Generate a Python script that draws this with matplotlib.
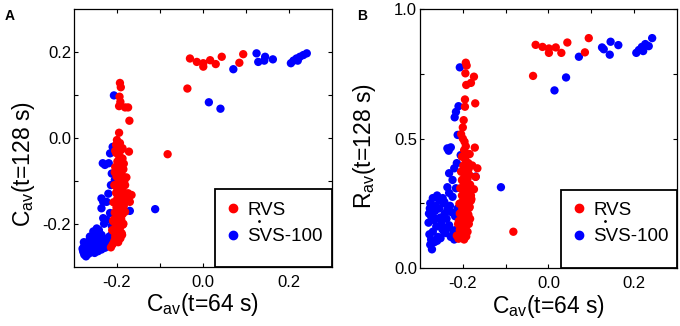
import matplotlib
matplotlib.use("Agg")
import matplotlib.pyplot as plt
from matplotlib.lines import Line2D
from matplotlib.patches import Rectangle

plt.rcParams['font.family'] = ['Liberation Sans', 'DejaVu Sans']
plt.rcParams['mathtext.fontset'] = 'custom'
plt.rcParams['mathtext.rm'] = 'Liberation Sans'
plt.rcParams['mathtext.it'] = 'Liberation Sans'

# RVS points: C_av(t=64 s), C_av(t=128 s), R_av(t=128 s)
rvs_x = [-0.030, -0.014, 0.001, 0.001, 0.017, 0.030, 0.044, 0.085, 0.094, -0.036,
         -0.082,
         -0.193, -0.191, -0.194, -0.192, -0.195, -0.174, -0.181, -0.171, -0.195, -0.172,
         -0.198, -0.200, -0.204, -0.196,
         -0.200, -0.193, -0.197, -0.190, -0.202, -0.194, -0.187, -0.199, -0.191, -0.204,
         -0.185, -0.196, -0.189, -0.201, -0.193, -0.183, -0.198, -0.206, -0.190, -0.195,
         -0.186, -0.202, -0.192, -0.180, -0.199, -0.188, -0.208, -0.194, -0.184, -0.201,
         -0.191, -0.197, -0.205, -0.187, -0.195, -0.200, -0.190, -0.209, -0.196, -0.186,
         -0.203, -0.193, -0.199, -0.207, -0.189, -0.196, -0.204, -0.192, -0.201, -0.197,
         -0.210, -0.214, -0.184, -0.178, -0.174, -0.170, -0.166, -0.181, -0.185, -0.188,
         -0.183, -0.181, -0.205, -0.207, -0.211, -0.206, -0.202, -0.187, -0.194, -0.199]
rvs_c128 = [0.185, 0.177, 0.174, 0.166, 0.181, 0.172, 0.189, 0.175, 0.195, 0.115,
            -0.038,
            0.128, 0.118, 0.096, 0.084, 0.074, 0.071, 0.071, 0.040, 0.012, -0.032,
            -0.017, -0.026, -0.030, -0.040,
            -0.005, -0.012, -0.020, -0.028, -0.035, -0.042, -0.048, -0.055, -0.062, -0.068,
            -0.073, -0.078, -0.085, -0.090, -0.096, -0.101, -0.105, -0.110, -0.114, -0.119,
            -0.124, -0.128, -0.133, -0.137, -0.141, -0.146, -0.150, -0.154, -0.158, -0.162,
            -0.166, -0.170, -0.174, -0.178, -0.182, -0.186, -0.190, -0.194, -0.198, -0.202,
            -0.206, -0.210, -0.214, -0.218, -0.222, -0.226, -0.230, -0.234, -0.238, -0.243,
            -0.248, -0.255, -0.060, -0.092, -0.129, -0.149, -0.133, -0.172, -0.200, -0.226,
            -0.150, -0.110, -0.080, -0.190, -0.215, -0.240, -0.016, -0.024, -0.066, -0.118]
rvs_r128 = [0.862, 0.854, 0.848, 0.831, 0.852, 0.831, 0.871, 0.833, 0.888, 0.742,
            0.140,
            0.793, 0.782, 0.752, 0.707, 0.651, 0.739, 0.715, 0.636, 0.623, 0.465,
            0.571, 0.543, 0.517, 0.488,
            0.500, 0.470, 0.455, 0.440, 0.430, 0.418, 0.405, 0.395, 0.380, 0.372,
            0.360, 0.352, 0.345, 0.338, 0.330, 0.322, 0.315, 0.308, 0.300, 0.292,
            0.286, 0.280, 0.273, 0.266, 0.260, 0.254, 0.248, 0.242, 0.236, 0.230,
            0.224, 0.218, 0.212, 0.206, 0.200, 0.194, 0.188, 0.182, 0.176, 0.170,
            0.164, 0.158, 0.152, 0.146, 0.140, 0.134, 0.128, 0.122, 0.116, 0.110,
            0.113, 0.125, 0.440, 0.396, 0.304, 0.352, 0.385, 0.280, 0.232, 0.185,
            0.190, 0.260, 0.250, 0.210, 0.170, 0.150, 0.340, 0.380, 0.215, 0.120]

# SVS-100 points
svs_x = [0.071, 0.125, 0.129, 0.145, 0.143, 0.163, 0.014, 0.041, 0.205, 0.211,
         0.218, 0.221, 0.226, 0.234, 0.242,
         -0.207, -0.210, -0.216, -0.219, -0.228, -0.233, -0.212, -0.205, -0.236, -0.232,
         -0.224, -0.236, -0.216, -0.170, -0.111, -0.232, -0.224, -0.247, -0.243, -0.263,
         -0.255, -0.212, -0.208, -0.218, -0.226, -0.238, -0.250, -0.262, -0.274, -0.270,
         -0.274, -0.280, -0.278, -0.268, -0.258, -0.248, -0.240, -0.232, -0.222, -0.215,
         -0.265, -0.255, -0.245, -0.236, -0.276, -0.272, -0.266, -0.260, -0.252, -0.244,
         -0.236, -0.228, -0.220, -0.276, -0.270, -0.260, -0.252, -0.242, -0.213, -0.279,
         -0.277, -0.262, -0.230, -0.220, -0.214]
svs_c128 = [0.160, 0.197, 0.177, 0.189, 0.180, 0.183, 0.083, 0.068, 0.174, 0.180,
            0.185, 0.180, 0.189, 0.193, 0.197,
            0.099, -0.021, -0.036, -0.059, -0.063, -0.059, -0.083, -0.098, -0.141, -0.149,
            -0.149, -0.164, -0.175, -0.170, -0.166, -0.187, -0.191, -0.211, -0.222, -0.230,
            -0.218, -0.205, -0.215, -0.230, -0.236, -0.240, -0.245, -0.250, -0.246, -0.261,
            -0.269, -0.258, -0.266, -0.255, -0.262, -0.258, -0.252, -0.248, -0.244, -0.240,
            -0.240, -0.235, -0.230, -0.226, -0.272, -0.276, -0.270, -0.266, -0.268, -0.264,
            -0.260, -0.256, -0.252, -0.252, -0.248, -0.244, -0.225, -0.215, -0.226, -0.262,
            -0.243, -0.257, -0.200, -0.130, -0.110]
svs_r128 = [0.816, 0.852, 0.845, 0.874, 0.824, 0.861, 0.686, 0.736, 0.831, 0.842,
            0.854, 0.838, 0.865, 0.857, 0.888,
            0.775, 0.625, 0.603, 0.582, 0.466, 0.453, 0.514, 0.436, 0.462, 0.366,
            0.340, 0.312, 0.308, 0.353, 0.312, 0.290, 0.275, 0.270, 0.255, 0.240,
            0.262, 0.230, 0.180, 0.200, 0.215, 0.190, 0.170, 0.160, 0.200, 0.140,
            0.110, 0.175, 0.130, 0.185, 0.120, 0.150, 0.135, 0.165, 0.145, 0.125,
            0.220, 0.230, 0.250, 0.225, 0.090, 0.072, 0.100, 0.105, 0.115, 0.140,
            0.155, 0.120, 0.110, 0.250, 0.270, 0.280, 0.195, 0.210, 0.150, 0.210,
            0.230, 0.190, 0.240, 0.385, 0.405]

series_names = ['RVS', 'SVS-100']
x_ticks = [-0.2, 0.0, 0.2]
x_ticklabels = ['-0.2', '0.0', '0.2']


def style_axis(ax, ylim, yticks, yticklabels, yminor, ylabel, label_xy, leg_xy):
    ax.set_xlim(-0.3, 0.3)
    ax.set_ylim(*ylim)
    ax.set_xticks(x_ticks)
    ax.set_xticklabels(x_ticklabels)
    ax.set_xticks([-0.1, 0.1], minor=True)
    ax.set_yticks(yticks)
    ax.set_yticklabels(yticklabels)
    ax.set_yticks(yminor, minor=True)
    ax.tick_params(which='both', direction='in', top=True, right=True,
                   length=3, width=0.8, labelsize=12)
    ax.tick_params(axis='x', which='both', pad=6)
    ax.tick_params(axis='y', which='both', pad=2)
    for s in ax.spines.values():
        s.set_linewidth(0.9)
    ax.set_xlabel('C$_{\\rm av}$(t=64 s)', fontsize=16.5, labelpad=1)
    ax.set_ylabel(ylabel, fontsize=16.5)
    ax.yaxis.set_label_coords(*label_xy)

    # legend box drawn as in the original (lower right, open on axes edges)
    ax.add_patch(Rectangle((0.547, 0.0), 0.453, 0.30, transform=ax.transAxes,
                           fc='white', ec='black', lw=1.3, zorder=4, clip_on=False))
    handles = [Line2D([], [], ls='none', marker='o', color='red', markersize=6),
               Line2D([], [], ls='none', marker='o', color='blue', markersize=6)]
    leg = ax.legend(handles, series_names, loc='center left', bbox_to_anchor=leg_xy,
                    frameon=False, fontsize=13.5, handlelength=0.8, handletextpad=0.35,
                    borderpad=0, borderaxespad=0, labelspacing=0.5)
    leg.set_zorder(5)
    ax.plot([leg_xy[0] + 0.13], [leg_xy[1] + 0.01], marker='o', ms=1.0, color='black',
            transform=ax.transAxes, zorder=6, clip_on=False)


fig = plt.figure(figsize=(6.8, 3.26), dpi=100)
axA = fig.add_axes([0.1088, 0.182, 0.379, 0.790])
axB = fig.add_axes([0.6176, 0.178, 0.378, 0.794])

msize = 36
axA.scatter(svs_x, svs_c128, s=msize, c='blue', edgecolors='none', zorder=2)
axA.scatter(rvs_x, rvs_c128, s=msize, c='red', edgecolors='none', zorder=3)
axB.scatter(svs_x, svs_r128, s=msize, c='blue', edgecolors='none', zorder=2)
axB.scatter(rvs_x, rvs_r128, s=msize, c='red', edgecolors='none', zorder=3)

style_axis(axA, (-0.3, 0.3), [-0.2, 0.0, 0.2], ['-0.2', '0.0', '0.2'], [-0.1, 0.1],
           'C$_{\\rm av}$(t=128 s)', (-0.145, 0.40), (0.588, 0.168))
style_axis(axB, (0.0, 1.0), [0.0, 0.5, 1.0], ['0.0', '0.5', '1.0'], [0.25, 0.75],
           'R$_{\\rm av}$(t=128 s)', (-0.165, 0.47), (0.591, 0.172))

fig.text(0.0074, 0.972, 'A', fontsize=10, fontweight='bold', va='top')
fig.text(0.525, 0.972, 'B', fontsize=10, fontweight='bold', va='top')

fig.savefig('out.png', dpi=100)
